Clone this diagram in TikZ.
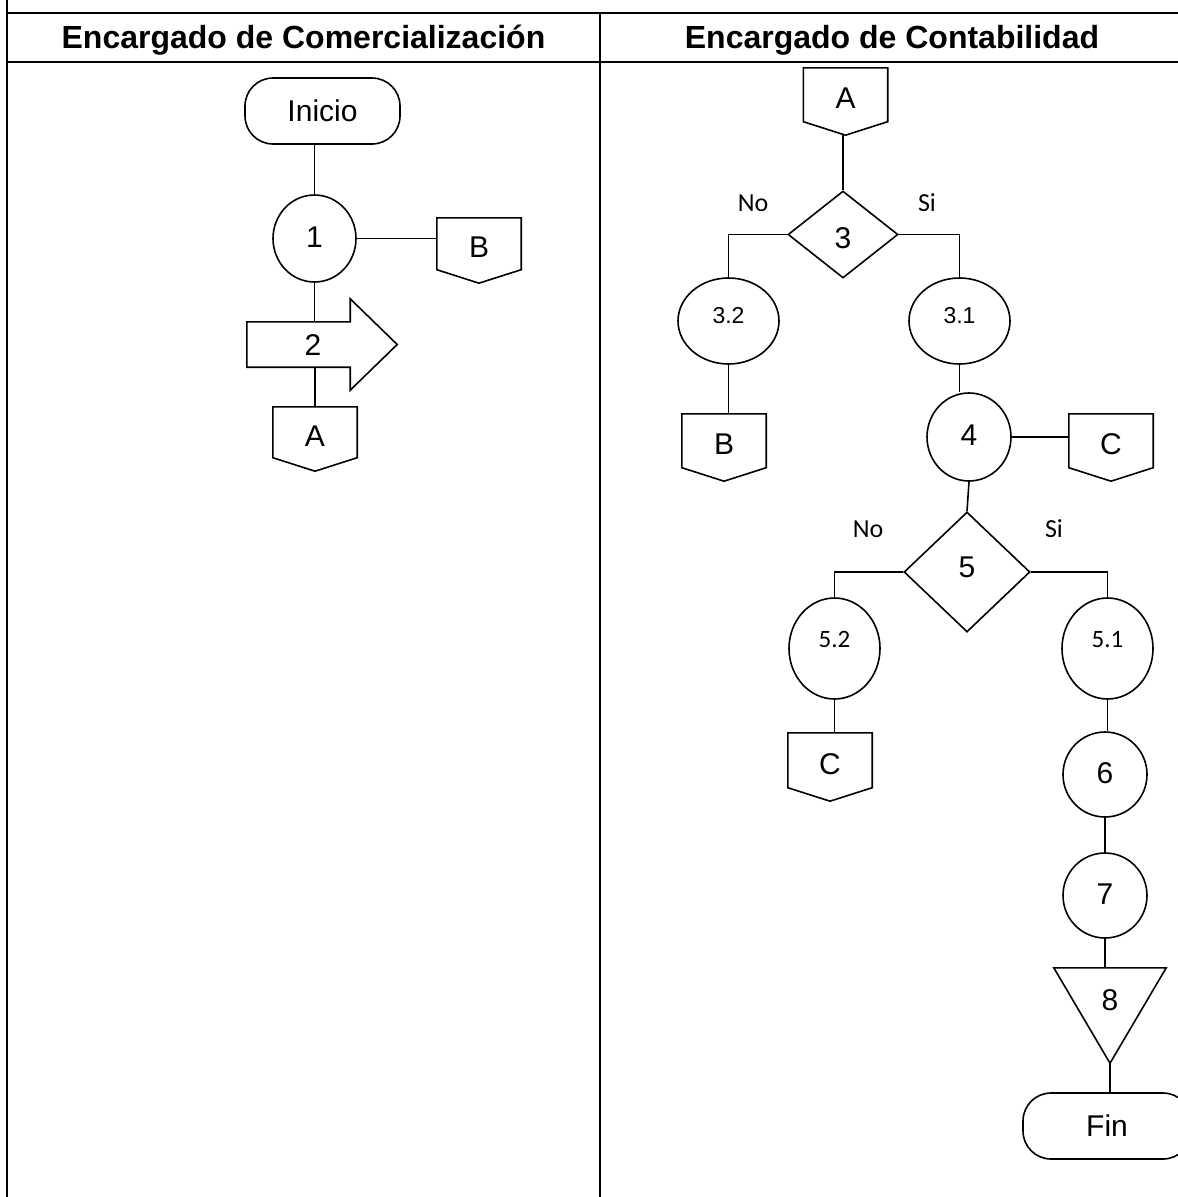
\documentclass[tikz,border=0pt]{standalone}
\usepackage{fontspec}
\setmainfont{Liberation Sans}
\newfontfamily\calfont{Carlito}
\usetikzlibrary{shapes.geometric}
\newcommand\offpgshape[1]{\draw[conn] (#1.north west) -- (#1.north east) -- ([yshift=13.5pt]#1.south east) -- (#1.south) -- ([yshift=13.5pt]#1.south west) -- cycle;}
\newcommand\arrowshape[1]{\draw[conn] (#1.north west) -- (#1.north east) -- ([yshift=23pt]#1.north east) -- ([xshift=47pt]#1.east) -- ([yshift=-23pt]#1.south east) -- (#1.south east) -- (#1.south west) -- cycle;}
\newcommand\trishape[1]{\draw[conn] (#1.north west) -- (#1.north east) -- (#1.south) -- cycle;}
\begin{document}
\begin{tikzpicture}[x=1pt,y=-1pt,
  tbl/.style={line width=2.4pt},
  conn/.style={line width=1.6pt, line join=miter},
  shp/.style={draw, line width=1.6pt, inner sep=0pt},
  bigtxt/.style={font=\fontsize{30}{34}\selectfont},
  hdr/.style={font=\fontsize{32}{36}\selectfont\bfseries, inner sep=0pt, text height=24pt, text depth=4pt},
  circ/.style={shp, ellipse, bigtxt, text depth=3pt},
  ovl/.style={shp, ellipse, font=\fontsize{23}{27}\selectfont, text depth=12pt},
  ovlb/.style={shp, ellipse, font=\calfont\fontsize{25}{29}\selectfont, text depth=19pt},
  dec/.style={shp, diamond, bigtxt},
  term/.style={shp, rectangle, rounded corners=28pt, minimum height=66pt, bigtxt},
  offpg/.style={inner sep=0pt, rectangle, minimum width=84pt, minimum height=67pt, bigtxt, text depth=6pt},
  blockbox/.style={inner sep=0pt, rectangle, minimum width=103pt, minimum height=45pt},
  tribox/.style={inner sep=0pt, rectangle, minimum width=112pt, minimum height=95pt, bigtxt, text depth=30pt},
  yn/.style={font=\calfont\fontsize{26}{30}\selectfont, inner sep=0pt}
]
\useasboundingbox (0,0) rectangle (1178,1197);
\fill[white] (0,0) rectangle (1178,1197);
% table
\draw[tbl] (7,-5) -- (7,1205);
\draw[tbl] (7,13) -- (1190,13);
\draw[tbl] (7,62) -- (1190,62);
\draw[tbl] (600,13) -- (600,1205);
\node[hdr] (h1) at (303.5,38) {Encargado de Comercialización};
\node[hdr] (h2) at (892,38) {Encargado de Contabilidad};
% left column
\node[term, minimum width=155pt] (ini) at (322.5,111) {Inicio};
\node[circ, minimum width=83pt, minimum height=87pt] (n1) at (314.5,238.5) {1};
\node[offpg, minimum height=65pt] (b1) at (479,250.5) {B};
\offpgshape{b1}
\node[blockbox, label={[bigtxt, xshift=14.5pt, yshift=-1pt]center:2}] (n2) at (298.5,344.5) {};
\arrowshape{n2}
\node[offpg, minimum height=64pt] (a1) at (315,439) {A};
\offpgshape{a1}
\draw[conn] (n1.north |- ini.south) -- (n1.north);
\draw[conn] (n1.east) -- (n1.east -| b1.west);
\draw[conn] (n1.south) -- (n1.south |- n2.north);
\draw[conn] (a1.north |- n2.south) -- (a1.north);
% right column
\node[offpg] (a2) at (845.5,101.5) {A};
\offpgshape{a2}
\node[dec, text height=28pt, minimum width=110pt, minimum height=87pt] (d3) at (843,234.5) {3};
\node[yn] (no3) at (753,203) {No};
\node[yn] (si3) at (927,203) {Si};
\node[ovl, minimum width=101pt, minimum height=86pt] (e32) at (728.5,321) {3.2};
\node[ovl, minimum width=101pt, minimum height=86pt] (e31) at (959.5,321) {3.1};
\node[offpg] (b2) at (724,447.5) {B};
\offpgshape{b2}
\node[circ, minimum width=84pt, minimum height=88pt] (c4) at (969,437) {4};
\node[offpg] (c1) at (1111,447.5) {C};
\offpgshape{c1}
\node[dec, text depth=10pt, minimum width=126pt, minimum height=120pt] (d5) at (967,572) {5};
\node[yn] (no5) at (868,529) {No};
\node[yn] (si5) at (1054,529) {Si};
\node[ovlb, minimum width=91pt, minimum height=101pt] (e52) at (834.5,648.5) {5.2};
\node[ovlb, minimum width=91pt, minimum height=101pt] (e51) at (1107.5,648.5) {5.1};
\node[offpg, minimum height=68pt] (c2) at (830,767) {C};
\offpgshape{c2}
\node[circ, minimum width=84pt, minimum height=85pt] (c6) at (1105,774.5) {6};
\node[circ, minimum width=84pt, minimum height=85pt] (c7) at (1105,895.5) {7};
\node[tribox] (t8) at (1110,1015.5) {8};
\trishape{t8}
\node[term, minimum width=168pt] (fin) at (1107,1126) {Fin};
\draw[conn] (d3.north |- a2.south) -- (d3.north);
\draw[conn] (d3.west) -| (e32.north);
\draw[conn] (d3.east) -| (e31.north);
\draw[conn] (e32.south) -- (e32.south |- b2.north);
\draw[conn] (e31.south) -- (e31.south |- c4.north);
\draw[conn] (c4.east) -- (c4.east -| c1.west);
\draw[conn] (c4.south) -- (d5.north);
\draw[conn] (d5.west) -| (e52.north);
\draw[conn] (d5.east) -| (e51.north);
\draw[conn] (e52.south) -- (e52.south |- c2.north);
\draw[conn] (e51.south) -- (e51.south |- c6.north);
\draw[conn] (c6.south) -- (c7.north);
\draw[conn] (c7.south) -- (c7.south |- t8.north);
\draw[conn] (t8.south) -- (t8.south |- fin.north);
\end{tikzpicture}
\end{document}
